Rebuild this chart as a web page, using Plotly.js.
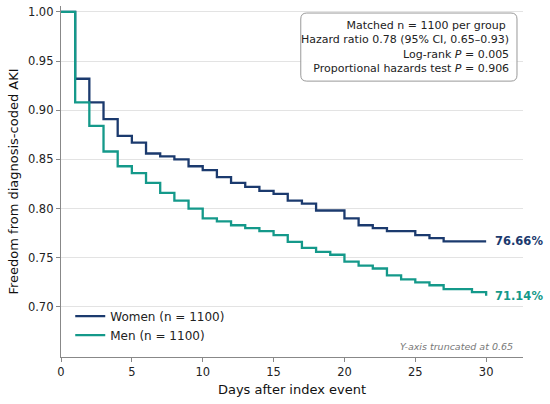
<!DOCTYPE html>
<html>
<head>
<meta charset="utf-8">
<script src="https://cdn.plot.ly/plotly-3.0.1.min.js"></script>
<style>
html,body{margin:0;padding:0;background:#fff;}
#chart{width:550px;height:404px;}
</style>
</head>
<body>
<div id="chart"></div>
<script>
const days = [0,1,2,3,4,5,6,7,8,9,10,11,12,13,14,15,16,17,18,19,20,21,22,23,24,25,26,27,28,29,30];
const women = [1.000,0.932,0.908,0.891,0.874,0.867,0.856,0.853,0.850,0.843,0.839,0.832,0.826,0.822,0.818,0.815,0.808,0.805,0.798,0.798,0.790,0.783,0.780,0.777,0.777,0.773,0.770,0.7666,0.7666,0.7666,0.7666];
const men = [1.000,0.908,0.884,0.858,0.843,0.836,0.826,0.816,0.808,0.800,0.790,0.787,0.783,0.780,0.777,0.773,0.766,0.760,0.756,0.753,0.746,0.742,0.739,0.732,0.728,0.725,0.722,0.718,0.718,0.715,0.7114];
const seriesNames = ['Women (n = 1100)','Men (n = 1100)'];
const endLabels = ['76.66%','71.14%'];
const statsLines = ['Matched n = 1100 per group&nbsp;','Hazard ratio 0.78 (95% CI, 0.65\u20130.93)','Log-rank <i>P</i> = 0.005','Proportional hazards test <i>P</i> = 0.906'];
const yTicks = [0.70,0.75,0.80,0.85,0.90,0.95,1.00];
const xTicks = [0,5,10,15,20,25,30];

const navy = '#1b3a6e';
const teal = '#14998a';
const FONT = 'DejaVu Sans, sans-serif';

const traces = [
  {x: days, y: women, type:'scatter', mode:'lines', name: seriesNames[0], line:{shape:'hv', color:navy, width:2.3}},
  {x: days, y: men, type:'scatter', mode:'lines', name: seriesNames[1], line:{shape:'hv', color:teal, width:2.3}}
];

// rounded box in paper coords
const bx0=0.519, bx1=0.987, by0=0.786, by1=0.980, rx=0.013, ry=0.017;
const boxPath = `M ${bx0+rx},${by1} L ${bx1-rx},${by1} Q ${bx1},${by1} ${bx1},${by1-ry} L ${bx1},${by0+ry} Q ${bx1},${by0} ${bx1-rx},${by0} L ${bx0+rx},${by0} Q ${bx0},${by0} ${bx0},${by0+ry} L ${bx0},${by1-ry} Q ${bx0},${by1} ${bx0+rx},${by1} Z`;

const layout = {
  width:550, height:404,
  margin:{l:61, r:27, t:6, b:47},
  paper_bgcolor:'#fff', plot_bgcolor:'#fff',
  font:{family:FONT, size:11.5, color:'#222'},
  showlegend:true,
  legend:{x:0.02, y:0.158, xanchor:'left', yanchor:'top', bgcolor:'rgba(255,255,255,0)', font:{size:12, color:'#222'}, tracegroupgap:0},
  xaxis:{
    range:[0,32.6], tickvals:xTicks, ticktext:xTicks.map(String),
    showgrid:false, zeroline:false,
    showline:true, linecolor:'#888', linewidth:1.2,
    ticks:'outside', ticklen:4, tickcolor:'#888',
    tickfont:{size:11.5, color:'#222'},
    title:{text:'Days after index event', font:{size:13, color:'#111'}, standoff:6}
  },
  yaxis:{
    range:[0.649,1.006], tickvals:yTicks, ticktext:yTicks.map(v=>v.toFixed(2)),
    showgrid:true, gridcolor:'#e3e3e3', gridwidth:1, zeroline:false,
    showline:true, linecolor:'#888', linewidth:1.2,
    ticks:'outside', ticklen:4, tickcolor:'#888',
    tickfont:{size:11.5, color:'#222'},
    title:{text:'Freedom from diagnosis-coded AKI', font:{size:13, color:'#111'}, standoff:6}
  },
  shapes:[
    {type:'path', xref:'paper', yref:'paper', path:boxPath, line:{color:'#999', width:1}, fillcolor:'rgba(255,255,255,0.9)', layer:'above'}
  ],
  annotations:[
    {xref:'paper', yref:'paper', x:0.974, y:0.883, xanchor:'right', yanchor:'middle', align:'right',
     text: statsLines.join('<br>'), showarrow:false, font:{size:11, color:'#222'}},
    {xref:'x', yref:'y', x:30.5, y:women[women.length-1], xanchor:'left', yanchor:'middle', text:'<b>'+endLabels[0]+'</b>', showarrow:false, font:{size:11.5, color:navy}},
    {xref:'x', yref:'y', x:30.5, y:men[men.length-1], xanchor:'left', yanchor:'middle', text:'<b>'+endLabels[1]+'</b>', showarrow:false, font:{size:11.5, color:teal}},
    {xref:'paper', yref:'paper', x:0.983, y:0.03, xanchor:'right', yanchor:'middle', text:'<i>Y-axis truncated at 0.65</i>', showarrow:false, font:{size:9.5, color:'#777'}}
  ]
};

Plotly.newPlot('chart', traces, layout, {displayModeBar:false, staticPlot:true});
</script>
</body>
</html>
